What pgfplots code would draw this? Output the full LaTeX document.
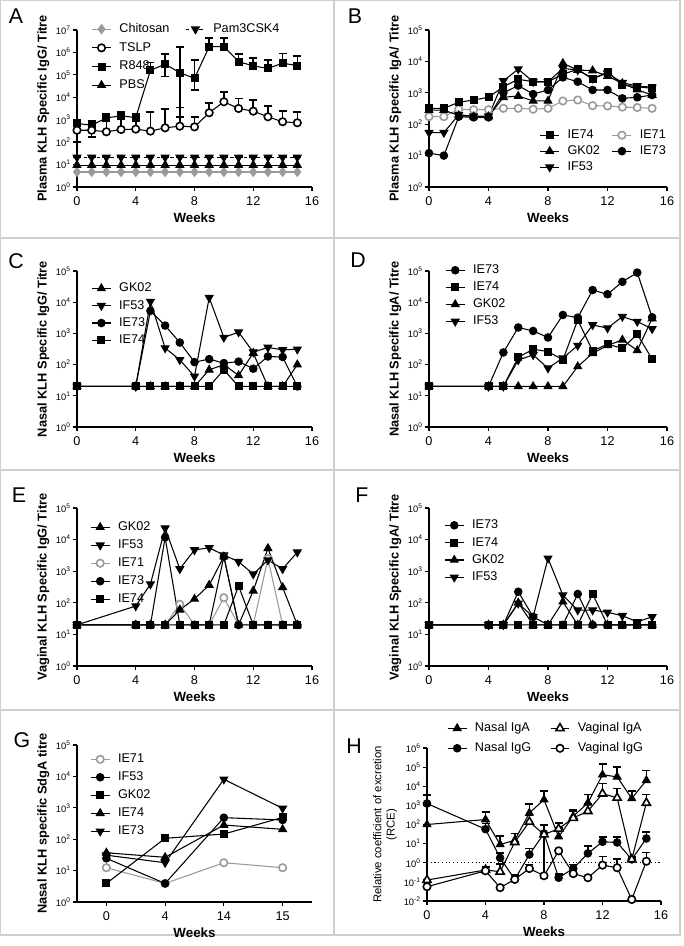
\documentclass[border=0pt]{standalone}
\usepackage{pgfplots}
\pgfplotsset{compat=1.18}
\usepackage{fontspec}
\setmainfont{Liberation Sans}
\definecolor{lg}{HTML}{9A9A9A}
\definecolor{framec}{HTML}{CFCFCF}
\newcommand{\tp}[1]{10\textsuperscript{#1}}
\pgfplotsset{
  panelbase/.style={
    scale only axis,
    axis x line=bottom, axis y line=left,
    axis line style={-, line width=1.1pt},
    yminorticks=false, xminorticks=false,
    tick align=outside, major tick length=3pt,
    tick style={black, line width=0.9pt},
    xmin=0, xmax=16, xtick={0,4,8,12,16},
    xticklabel style={font=\fontsize{9.5}{10}\selectfont, inner sep=1pt, yshift=-3pt, /pgf/number format/assume math mode=true},
    yticklabel style={font=\fontsize{7}{8}\selectfont, inner sep=1.5pt},
    xlabel={Weeks},
    xlabel style={font=\bfseries\fontsize{10}{11}\selectfont, inner sep=1pt, yshift=-3pt},
    ylabel style={font=\bfseries\fontsize{9.6}{10}\selectfont},
    clip=false,
    legend cell align=left,
    legend style={draw=none, fill=none, inner sep=0pt, font=\fontsize{9.5}{10}\selectfont, row sep=4.5pt,
      nodes={inner xsep=3pt, inner ysep=0pt, text height=7pt, text depth=2pt},
      /tikz/every even column/.append style={column sep=6pt}},
  },
  ylogfive/.style={ymin=1, ymax=1e5, ytick={1,10,100,1000,10000,100000},
    yticklabels={\tp{0},\tp{1},\tp{2},\tp{3},\tp{4},\tp{5}}},
  mksq/.style={black, line width=0.8pt, mark=square*, mark size=2.6pt, mark options={solid, fill=black}},
  mktri/.style={black, line width=0.8pt, mark=triangle*, mark size=3.3pt, mark options={solid, fill=black}},
  mkitri/.style={black, line width=0.8pt, mark=triangle*, mark size=3.3pt, mark options={solid, fill=black, rotate=180}},
  mkci/.style={black, line width=0.8pt, mark=*, mark size=2.8pt, mark options={solid, fill=black}},
  mkoc/.style={black, line width=0.8pt, mark=*, mark size=2.8pt, mark options={solid, fill=white, line width=1.2pt}},
  mkotri/.style={black, line width=0.8pt, mark=triangle*, mark size=3.5pt, mark options={solid, fill=white, line width=1.2pt}},
  mkgoc/.style={lg, line width=0.8pt, mark=*, mark size=2.8pt, mark options={solid, fill=white, draw=lg, line width=1.2pt}},
  mkgd/.style={lg, line width=1pt, mark=diamond*, mark size=3.2pt, mark options={solid, fill=lg, draw=lg}},
}
\pgfplotsset{legend image code/.code={\draw[mark repeat=2, mark phase=2] plot coordinates {(0cm,0cm) (0.25cm,0cm) (0.5cm,0cm)}; \path (0.6cm,0cm);}}
\pgfplotsset{
  errplus/.style={error bars/.cd, y dir=plus, y explicit,
    error bar style={line width=1.2pt, solid},
    error mark options={rotate=90, mark size=3pt, line width=1.2pt, solid}},
  errminus/.style={error bars/.cd, y dir=minus, y explicit,
    error bar style={line width=1.2pt, solid},
    error mark options={rotate=90, mark size=3pt, line width=1.2pt, solid}},
}
\begin{document}
\begin{tikzpicture}
\path[use as bounding box] (0,0) rectangle (513pt,-709.5pt);
% frames
\draw[framec, line width=1pt] (0.5pt,-0.5pt) rectangle (510pt,-701.25pt);
\draw[framec, line width=1pt] (250.5pt,-0.5pt) -- (250.5pt,-701.25pt);
\draw[framec, line width=1pt] (0.5pt,-178.5pt) -- (510pt,-178.5pt);
\draw[framec, line width=1pt] (0.5pt,-352.5pt) -- (510pt,-352.5pt);
\draw[framec, line width=1pt] (0.5pt,-532.5pt) -- (510pt,-532.5pt);
% letters
\begin{scope}[every node/.style={font=\fontsize{16}{16}\selectfont, inner sep=0pt}]
\node at (12pt,-12pt) {A};
\node at (266.25pt,-12pt) {B};
\node at (12pt,-195.75pt) {C};
\node at (268.5pt,-195pt) {D};
\node at (14.25pt,-371.25pt) {E};
\node at (271.5pt,-371.25pt) {F};
\node at (16.5pt,-555pt) {G};
\node at (265.5pt,-559.5pt) {H};
\end{scope}

% ---------------- A ----------------
\begin{axis}[panelbase, ymode=log, at={(57.75pt,-140.25pt)}, anchor=south west, width=176.25pt, height=117.75pt,
  ymin=1, ymax=1e7, ytick={1,10,100,1000,10000,100000,1000000,10000000},
  yticklabels={\tp{0},\tp{1},\tp{2},\tp{3},\tp{4},\tp{5},\tp{6},\tp{7}},
  ylabel={Plasma KLH Specific IgG/ Titre},
  legend columns=2, legend style={at={(0.06,1.045)}, anchor=north west, row sep=5pt, /tikz/every even column/.append style={column sep=9pt}}]
\addlegendimage{mkgd}\addlegendentry{Chitosan}
\addlegendimage{mkitri, dash pattern=on 2.5pt off 2.5pt}\addlegendentry{Pam3CSK4}
\addlegendimage{mkoc}\addlegendentry{TSLP}
\addlegendimage{empty legend}\addlegendentry{}
\addlegendimage{mksq}\addlegendentry{R848}
\addlegendimage{empty legend}\addlegendentry{}
\addlegendimage{mktri}\addlegendentry{PBS}
\addplot[mkgd, forget plot] coordinates {(0,4.7)(1,4.7)(2,4.7)(3,4.7)(4,4.7)(5,4.7)(6,4.7)(7,4.7)(8,4.7)(9,4.7)(10,4.7)(11,4.7)(12,4.7)(13,4.7)(14,4.7)(15,4.7)};
\addplot[mktri, forget plot, errplus] coordinates {(0,9.5)+-(0,12.5)(1,9.5)+-(0,12.5)(2,9.5)+-(0,12.5)(3,9.5)+-(0,12.5)(4,9.5)+-(0,12.5)(5,9.5)+-(0,12.5)(6,9.5)+-(0,12.5)(7,9.5)+-(0,12.5)(8,9.5)+-(0,12.5)(9,9.5)+-(0,12.5)(10,9.5)+-(0,12.5)(11,9.5)+-(0,12.5)(12,9.5)+-(0,12.5)(13,9.5)+-(0,12.5)(14,9.5)+-(0,12.5)(15,9.5)+-(0,12.5)};
\addplot[mkitri, dash pattern=on 2.5pt off 2.5pt, forget plot] coordinates {(0,21)(1,21)(2,21)(3,21)(4,21)(5,21)(6,21)(7,21)(8,21)(9,21)(10,21)(11,21)(12,21)(13,21)(14,21)(15,21)};
\addplot[black, only marks, mark=none, forget plot, errminus] coordinates {(0,340)+-(0,240)(1,340)+-(0,168)};
\addplot[black, only marks, mark=none, forget plot, errminus] coordinates {(6,3.0e5)+-(0,2.17e5)(7,1.25e5)+-(0,123650)(8,7.0e4)+-(0,49000)};
\addplot[mksq, forget plot, errplus] coordinates {(0,680)+-(0,320)(1,570)+-(0,310)(2,1200)+-(0,700)(3,1490)+-(0,660)(4,1250)+-(0,550)(5,1.6e5)+-(0,1.9e5)(6,3.0e5)+-(0,5.5e5)(7,1.25e5)+-(0,1.675e6)(8,7.0e4)+-(0,3.9e5)(9,1.8e6)+-(0,2.5e6)(10,1.8e6)+-(0,2.5e6)(11,3.9e5)+-(0,4.4e5)(12,2.5e5)+-(0,3.0e5)(13,1.95e5)+-(0,2.65e5)(14,3.3e5)+-(0,5.8e5)(15,2.6e5)+-(0,4.3e5)};
\addplot[mkoc, forget plot, errplus] coordinates {(0,340)+-(0,615)(1,340)+-(0,550)(2,290)+-(0,600)(3,365)+-(0,700)(4,380)+-(0,700)(5,310)+-(0,1870)(6,435)+-(0,2515)(7,515)+-(0,2985)(8,480)+-(0,870)(9,2040)+-(0,3660)(10,6300)+-(0,11400)(11,3170)+-(0,5730)(12,2400)+-(0,5100)(13,1350)+-(0,2650)(14,810)+-(0,1590)(15,730)+-(0,1450)};
\end{axis}

% ---------------- B ----------------
\begin{axis}[panelbase, ymode=log, ylogfive, at={(321.75pt,-140.25pt)}, anchor=south west, width=178.5pt, height=117.75pt,
  ylabel={Plasma KLH Specific IgA/ Titre},
  legend columns=2, legend style={at={(1.013,0.37)}, anchor=north east, row sep=3pt}]
\addlegendimage{mksq}\addlegendentry{IE74}
\addlegendimage{mkgoc}\addlegendentry{IE71}
\addlegendimage{mktri}\addlegendentry{GK02}
\addlegendimage{mkci}\addlegendentry{IE73}
\addlegendimage{mkitri}\addlegendentry{IF53}
\addplot[mkgoc, forget plot] coordinates {(0,174)(1,174)(2,300)(3,290)(4,290)(5,320)(6,320)(7,300)(8,320)(9,550)(10,590)(11,390)(12,380)(13,350)(14,340)(15,320)};
\addplot[mkci, forget plot] coordinates {(0,12)(1,10)(2,174)(3,165)(4,165)(5,1000)(6,1700)(7,910)(8,1230)(9,3100)(10,2250)(11,1230)(12,1230)(13,665)(14,720)(15,850)};
\addplot[mkitri, forget plot] coordinates {(0,54)(1,54)(2,200)(3,180)(4,180)(5,2400)(6,5700)(7,2250)(8,2250)(9,6000)(10,5300)(11,2900)(12,4200)(13,2100)(14,1650)(15,1500)};
\addplot[mktri, forget plot] coordinates {(0,280)(1,280)(2,190)(3,175)(4,175)(5,720)(6,790)(7,550)(8,550)(9,8700)(10,5300)(11,5100)(12,3400)(13,2000)(14,1250)(15,850)};
\addplot[mksq, forget plot] coordinates {(0,320)(1,320)(2,500)(3,590)(4,720)(5,1560)(6,2700)(7,2250)(8,2250)(9,3900)(10,5600)(11,2700)(12,4700)(13,1780)(14,1560)(15,1390)};
\end{axis}

% ---------------- C ----------------
\begin{axis}[panelbase, ymode=log, ylogfive, at={(57.75pt,-320.25pt)}, anchor=south west, width=176.25pt, height=117pt,
  ylabel={Nasal KLH Specific IgG/ Titre},
  legend style={at={(0.06,0.929)}, anchor=north west, row sep=4pt}]
\addlegendimage{mktri}\addlegendentry{GK02}
\addlegendimage{mkitri}\addlegendentry{IF53}
\addlegendimage{mkci}\addlegendentry{IE73}
\addlegendimage{mksq}\addlegendentry{IE74}
\addplot[mktri, forget plot] coordinates {(0,20)(4,20)(5,20)(6,20)(7,20)(8,20)(9,68)(10,100)(11,45)(12,235)(13,20)(14,20)(15,100)};
\addplot[mkitri, forget plot] coordinates {(0,20)(4,20)(5,10500)(6,340)(7,142)(8,42)(9,14000)(10,740)(11,1100)(12,250)(13,355)(14,297)(15,310)};
\addplot[mkci, forget plot] coordinates {(0,20)(4,20)(5,5300)(6,1780)(7,510)(8,120)(9,150)(10,112)(11,125)(12,74)(13,182)(14,175)(15,20)};
\addplot[mksq, forget plot] coordinates {(0,20)(4,20)(5,20)(6,20)(7,20)(8,20)(9,20)(10,68)(11,20)(12,20)(13,20)(14,20)(15,20)};
\end{axis}

% ---------------- D ----------------
\begin{axis}[panelbase, ymode=log, ylogfive, at={(321.75pt,-320.25pt)}, anchor=south west, width=178.5pt, height=117pt,
  ylabel={Nasal KLH Specific IgA/ Titre},
  legend style={at={(0.067,1.045)}, anchor=north west, row sep=3.8pt}]
\addlegendimage{mkci}\addlegendentry{IE73}
\addlegendimage{mksq}\addlegendentry{IE74}
\addlegendimage{mktri}\addlegendentry{GK02}
\addlegendimage{mkitri}\addlegendentry{IF53}
\addplot[mkci, forget plot] coordinates {(0,20)(4,20)(5,245)(6,1550)(7,1200)(8,740)(9,3900)(10,3200)(11,24500)(12,18000)(13,45000)(14,89000)(15,3300)};
\addplot[mktri, forget plot] coordinates {(0,20)(4,20)(5,20)(6,20)(7,20)(8,20)(9,20)(10,87)(11,230)(12,410)(13,620)(14,285)(15,3000)};
\addplot[mkitri, forget plot] coordinates {(0,20)(4,20)(5,20)(6,140)(7,205)(8,77)(9,162)(10,410)(11,1870)(12,1480)(13,3450)(14,2400)(15,1400)};
\addplot[mksq, forget plot] coordinates {(0,20)(4,20)(5,20)(6,173)(7,310)(8,263)(9,142)(10,2700)(11,275)(12,450)(13,335)(14,940)(15,150)};
\end{axis}

% ---------------- E ----------------
\begin{axis}[panelbase, ymode=log, ylogfive, at={(57.75pt,-499.5pt)}, anchor=south west, width=176.25pt, height=118.5pt,
  ylabel={Vaginal KLH Specific IgG/ Titre},
  legend style={at={(0.055,0.918)}, anchor=north west}]
\addlegendimage{mktri}\addlegendentry{GK02}
\addlegendimage{mkitri}\addlegendentry{IF53}
\addlegendimage{mkgoc}\addlegendentry{IE71}
\addlegendimage{mkci}\addlegendentry{IE73}
\addlegendimage{mksq}\addlegendentry{IE74}
\addplot[mkgoc, forget plot] coordinates {(0,20)(4,20)(5,20)(6,20)(7,90)(8,20)(9,20)(10,145)(11,20)(12,20)(13,2500)(14,20)(15,20)};
\addplot[mkci, forget plot] coordinates {(0,20)(4,20)(5,20)(6,11800)(7,20)(8,20)(9,20)(10,2900)(11,20)(12,20)(13,20)(14,20)(15,20)};
\addplot[mksq, forget plot] coordinates {(0,20)(4,20)(5,20)(6,20)(7,20)(8,20)(9,20)(10,20)(11,340)(12,20)(13,20)(14,20)(15,20)};
\addplot[mktri, forget plot] coordinates {(0,20)(4,20)(5,20)(6,20)(7,60)(8,132)(9,365)(10,2900)(11,20)(12,240)(13,5300)(14,310)(15,20)};
\addplot[mkitri, forget plot] coordinates {(0,20)(4,79)(5,390)(6,23000)(7,1180)(8,4700)(9,5500)(10,3250)(11,2000)(12,810)(13,2250)(14,1180)(15,4000)};
\end{axis}

% ---------------- F ----------------
\begin{axis}[panelbase, ymode=log, ylogfive, at={(321.75pt,-499.5pt)}, anchor=south west, width=178.5pt, height=118.5pt,
  ylabel={Vaginal KLH Specific IgA/ Titre},
  legend style={at={(0.063,0.930)}, anchor=north west, row sep=4pt}]
\addlegendimage{mkci}\addlegendentry{IE73}
\addlegendimage{mksq}\addlegendentry{IE74}
\addlegendimage{mktri}\addlegendentry{GK02}
\addlegendimage{mkitri}\addlegendentry{IF53}
\addplot[mktri, forget plot] coordinates {(0,20)(4,20)(5,20)(6,100)(7,20)(8,20)(9,108)(10,20)(11,20)(12,20)(13,20)(14,20)(15,20)};
\addplot[mkitri, forget plot] coordinates {(0,20)(4,20)(5,20)(6,96)(7,36)(8,2570)(9,175)(10,59)(11,59)(12,50)(13,39)(14,25)(15,36)};
\addplot[mkci, forget plot] coordinates {(0,20)(4,20)(5,20)(6,224)(7,36)(8,20)(9,20)(10,190)(11,20)(12,20)(13,20)(14,20)(15,20)};
\addplot[mksq, forget plot] coordinates {(0,20)(4,20)(5,20)(6,20)(7,20)(8,20)(9,20)(10,20)(11,190)(12,20)(13,20)(14,20)(15,20)};
\end{axis}

% ---------------- G ----------------
\begin{axis}[panelbase, ymode=log, ylogfive, at={(57.75pt,-676.5pt)}, anchor=south west, width=176.25pt, height=117.75pt,
  xmin=-0.5, xmax=3.5, xtick={0,1,2,3}, xticklabels={0,4,14,15},
  ylabel={Nasal KLH specific SdgA titre},
  legend style={at={(0.055,0.949)}, anchor=north west}]
\addlegendimage{mkgoc}\addlegendentry{IE71}
\addlegendimage{mkci}\addlegendentry{IF53}
\addlegendimage{mksq}\addlegendentry{GK02}
\addlegendimage{mktri}\addlegendentry{IE74}
\addlegendimage{mkitri}\addlegendentry{IE73}
\addplot[mkgoc, forget plot] coordinates {(0,12.4)(1,3.9)(2,17.8)(3,12.4)};
\addplot[mkci, forget plot] coordinates {(0,24.6)(1,3.9)(2,485)(3,410)};
\addplot[mksq, forget plot] coordinates {(0,3.9)(1,107)(2,146)(3,495)};
\addplot[mktri, forget plot] coordinates {(0,37)(1,26.5)(2,283)(3,206)};
\addplot[mkitri, forget plot] coordinates {(0,31)(1,17.8)(2,8100)(3,960)};
\end{axis}

% ---------------- H ----------------
\begin{axis}[panelbase, ymode=log, at={(320.25pt,-675.75pt)}, anchor=south west, width=175.5pt, height=114.75pt,
  ymin=0.01, ymax=1e6, ytick={0.01,0.1,1,10,100,1000,10000,100000,1000000},
  yticklabels={\tp{-2},\tp{-1},\tp{0},\tp{1},\tp{2},\tp{3},\tp{4},\tp{5},\tp{6}},
  ylabel={Relative coefficient of excretion\\(RCE)},
  ylabel style={font=\fontsize{8.5}{10}\selectfont, align=center},
  legend columns=2, legend style={at={(0.085,1.17)}, anchor=north west, row sep=6pt, /tikz/every even column/.append style={column sep=11pt}}]
\addlegendimage{mktri}\addlegendentry{Nasal IgA}
\addlegendimage{mkotri}\addlegendentry{Vaginal IgA}
\addlegendimage{mkci}\addlegendentry{Nasal IgG}
\addlegendimage{mkoc}\addlegendentry{Vaginal IgG}
\addplot[black, dotted, line width=0.8pt, forget plot] coordinates {(0,1)(16,1)};
\addplot[black, only marks, mark=none, forget plot, errminus] coordinates {(8,34)+-(0,33.85)};
\addplot[mktri, forget plot, errplus] coordinates {(0,100)+-(0,3300)(4,182)+-(0,278)(5,9)+-(0,16)(6,15)+-(0,19)(7,400)+-(0,750)(8,2000)+-(0,3500)(9,23)+-(0,44)(10,270)+-(0,340)(11,1350)+-(0,2350)(12,40000)+-(0,110000)(13,31000)+-(0,69000)(14,2300)+-(0,3200)(15,20500)+-(0,47500)};
\addplot[mkci, forget plot, errplus] coordinates {(0,1250)+-(0,2150)(4,57)+-(0,56)(5,1.8)+-(0,1.5)(6,0.135)+-(0,0.1)(7,2.7)+-(0,2.9)(8,34)+-(0,59)(9,0.165)+-(0,0.1)(10,0.5)+-(0,0.3)(11,3.1)+-(0,4.3)(12,12.5)+-(0,10.5)(13,11.5)+-(0,11.5)(14,1.5)+-(0,0.5)(15,18.6)+-(0,22.4)};
\addplot[mkotri, forget plot, errplus] coordinates {(0,0.125)+-(0,0)(4,0.42)+-(0,0)(5,0.34)+-(0,0.5)(6,12)+-(0,0)(7,138)+-(0,160)(8,30)+-(0,0)(9,60)+-(0,60)(10,220)+-(0,280)(11,500)+-(0,750)(12,4100)+-(0,9700)(13,2500)+-(0,5100)(14,1.5)+-(0,0)(15,1350)+-(0,2350)};
\addplot[mkoc, forget plot, errplus] coordinates {(0,0.056)+-(0,0)(4,0.38)+-(0,0.2)(5,0.05)+-(0,0)(6,0.135)+-(0,0)(7,0.5)+-(0,0.3)(8,0.21)+-(0,0)(9,4.2)+-(0,0)(10,0.27)+-(0,0.1)(11,0.165)+-(0,0.05)(12,0.75)+-(0,1.35)(13,0.55)+-(0,1.0)(14,0.012)+-(0,0)(15,1.2)+-(0,2.3)};
\end{axis}
\end{tikzpicture}
\end{document}
